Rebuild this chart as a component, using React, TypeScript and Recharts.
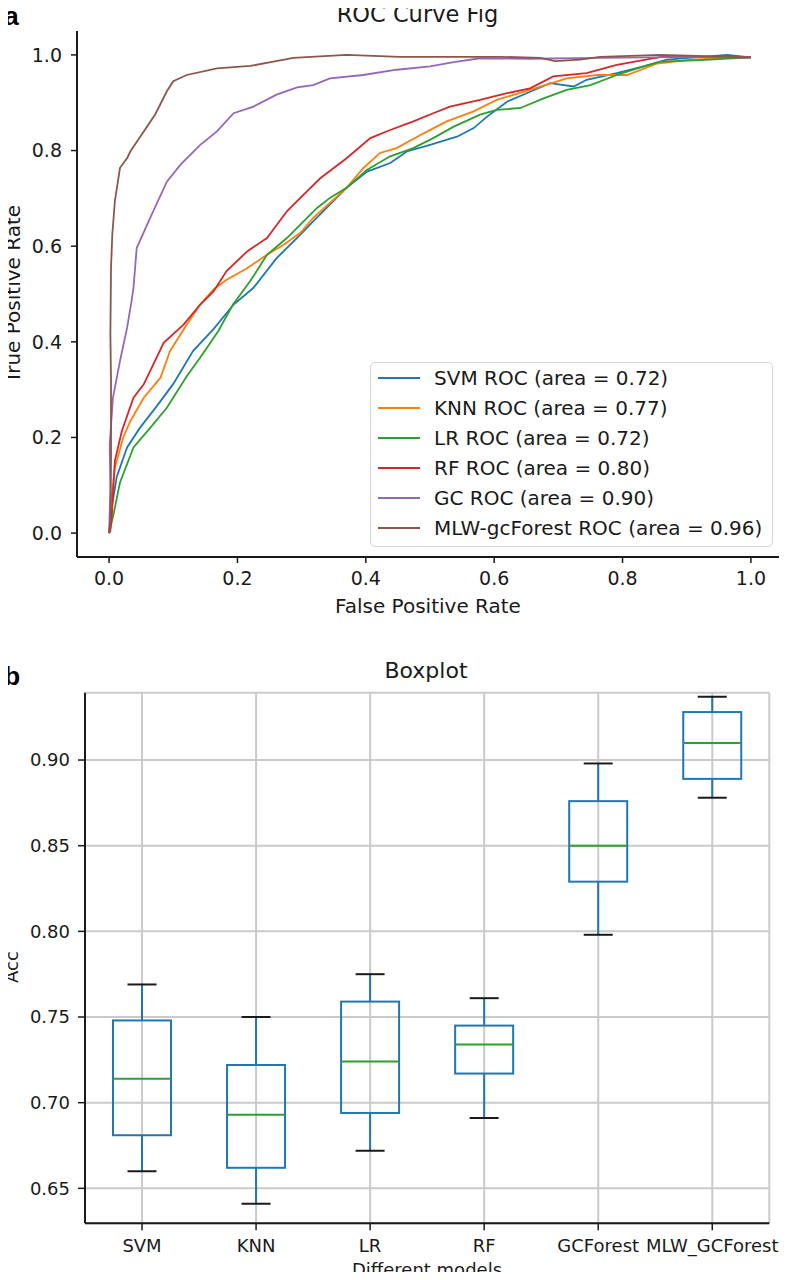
import {
  LineChart,
  Line,
  ComposedChart,
  Bar,
  XAxis,
  YAxis,
  CartesianGrid,
  Legend,
} from 'recharts'

const FONT = 'DejaVu Sans, sans-serif'
const BOLD_FONT = 'Liberation Sans, Arial, sans-serif'
const INK = '#1a1a1a'

// ---- panel a: ROC curves, [fpr, tpr] ----
const svmRoc: [number, number][] = [
  [0, 0], [0.004, 0.053], [0.012, 0.118], [0.028, 0.179], [0.048, 0.22], [0.074, 0.265],
  [0.1, 0.312], [0.131, 0.381], [0.163, 0.427], [0.194, 0.478], [0.225, 0.513], [0.261, 0.575],
  [0.298, 0.624], [0.318, 0.652], [0.344, 0.687], [0.37, 0.722], [0.402, 0.756], [0.438, 0.774],
  [0.464, 0.798], [0.5, 0.812], [0.542, 0.829], [0.568, 0.847], [0.589, 0.871], [0.62, 0.902],
  [0.656, 0.923], [0.687, 0.941], [0.724, 0.934], [0.744, 0.948], [0.791, 0.962], [0.833, 0.976],
  [0.869, 0.99], [0.963, 1.0], [1, 0.995],
]
const knnRoc: [number, number][] = [
  [0, 0], [0.004, 0.074], [0.009, 0.137], [0.022, 0.2], [0.033, 0.234], [0.054, 0.283],
  [0.08, 0.325], [0.095, 0.381], [0.121, 0.436], [0.142, 0.478], [0.163, 0.51], [0.183, 0.53],
  [0.215, 0.554], [0.246, 0.582], [0.272, 0.603], [0.298, 0.628], [0.318, 0.659], [0.37, 0.722],
  [0.396, 0.763], [0.422, 0.795], [0.448, 0.805], [0.49, 0.836], [0.526, 0.861], [0.568, 0.882],
  [0.604, 0.906], [0.656, 0.927], [0.713, 0.951], [0.76, 0.958], [0.807, 0.958], [0.854, 0.982],
  [0.9, 0.989], [0.947, 0.993], [1, 0.995],
]
const lrRoc: [number, number][] = [
  [0, 0], [0.007, 0.04], [0.017, 0.106], [0.038, 0.179], [0.064, 0.22], [0.09, 0.262],
  [0.121, 0.328], [0.142, 0.367], [0.17, 0.422], [0.193, 0.478], [0.22, 0.527], [0.246, 0.582],
  [0.277, 0.617], [0.298, 0.645], [0.324, 0.68], [0.344, 0.701], [0.37, 0.722], [0.402, 0.76],
  [0.438, 0.788], [0.474, 0.805], [0.505, 0.826], [0.537, 0.85], [0.578, 0.875], [0.604, 0.885],
  [0.641, 0.889], [0.677, 0.909], [0.713, 0.927], [0.75, 0.937], [0.791, 0.958], [0.833, 0.976],
  [0.859, 0.986], [0.921, 0.989], [1, 0.995],
]
const rfRoc: [number, number][] = [
  [0, 0], [0.002, 0.005], [0.004, 0.033], [0.009, 0.151], [0.02, 0.214], [0.038, 0.283],
  [0.054, 0.311], [0.085, 0.398], [0.116, 0.436], [0.142, 0.478], [0.163, 0.506], [0.183, 0.548],
  [0.215, 0.589], [0.246, 0.617], [0.277, 0.673], [0.298, 0.701], [0.329, 0.742], [0.37, 0.784],
  [0.407, 0.826], [0.438, 0.843], [0.474, 0.861], [0.505, 0.878], [0.531, 0.892], [0.578, 0.906],
  [0.62, 0.92], [0.656, 0.93], [0.692, 0.955], [0.744, 0.962], [0.791, 0.979], [0.869, 0.998],
  [0.921, 0.996], [1, 0.995],
]
const gcRoc: [number, number][] = [
  [0, 0], [0.002, 0.088], [0.001, 0.186], [0.006, 0.283], [0.017, 0.36], [0.028, 0.429],
  [0.035, 0.485], [0.038, 0.513], [0.043, 0.596], [0.064, 0.659], [0.09, 0.735], [0.111, 0.77],
  [0.142, 0.812], [0.168, 0.84], [0.194, 0.878], [0.225, 0.892], [0.261, 0.917], [0.293, 0.932],
  [0.318, 0.937], [0.344, 0.951], [0.396, 0.958], [0.448, 0.969], [0.5, 0.976], [0.537, 0.985],
  [0.578, 0.993], [0.656, 0.992], [0.765, 0.994], [0.921, 0.996], [1, 0.995],
]
const mlwRoc: [number, number][] = [
  [0, 0], [0.002, 0.026], [0.003, 0.151], [0.003, 0.318], [0.002, 0.416], [0.003, 0.555],
  [0.005, 0.624], [0.009, 0.694], [0.017, 0.764], [0.028, 0.784], [0.033, 0.798], [0.054, 0.84],
  [0.072, 0.876], [0.09, 0.924], [0.1, 0.945], [0.121, 0.958], [0.168, 0.972], [0.22, 0.977],
  [0.256, 0.986], [0.287, 0.994], [0.37, 1.0], [0.453, 0.996], [0.531, 0.996], [0.609, 0.996],
  [0.672, 0.994], [0.695, 0.987], [0.734, 0.99], [0.765, 0.996], [0.859, 1.0], [1, 0.995],
]

const rocNames = [
  'SVM ROC (area = 0.72)',
  'KNN ROC (area = 0.77)',
  'LR ROC (area = 0.72)',
  'RF ROC (area = 0.80)',
  'GC ROC (area = 0.90)',
  'MLW-gcForest ROC (area = 0.96)',
]
const rocColors = ['#1f77b4', '#ff7f0e', '#2ca02c', '#d62728', '#9467bd', '#8c564b']
const rocPoints = [svmRoc, knnRoc, lrRoc, rfRoc, gcRoc, mlwRoc]
const rocTicks = [0, 0.2, 0.4, 0.6, 0.8, 1.0]

// ---- panel b: accuracy boxplot ----
const models = ['SVM', 'KNN', 'LR', 'RF', 'GCForest', 'MLW_GCForest']
const whiskerLow = [0.66, 0.641, 0.672, 0.691, 0.798, 0.878]
const q1 = [0.681, 0.662, 0.694, 0.717, 0.829, 0.889]
const median = [0.714, 0.693, 0.724, 0.734, 0.85, 0.91]
const q3 = [0.748, 0.722, 0.759, 0.745, 0.876, 0.928]
const whiskerHigh = [0.769, 0.75, 0.775, 0.761, 0.898, 0.937]
const accTicks = [0.65, 0.7, 0.75, 0.8, 0.85, 0.9]

const series = rocNames.map((name, i) => ({
  name,
  color: rocColors[i],
  data: rocPoints[i].map(([fpr, tpr]) => ({ fpr, tpr })),
}))

const boxRows = models.map((name, i) => ({
  name,
  lo: whiskerLow[i],
  q1: q1[i],
  med: median[i],
  q3: q3[i],
  hi: whiskerHigh[i],
}))

const tickStyle = (size: number) => ({ fontFamily: FONT, fontSize: size, fill: INK })
const spine = { stroke: INK, strokeWidth: 2 }

function RocLegend() {
  return (
    <div
      style={{
        boxSizing: 'border-box',
        width: 403,
        height: 185,
        border: '1.5px solid #d6d6d6',
        borderRadius: 5,
        background: 'rgba(255,255,255,0.85)',
        fontFamily: FONT,
        fontSize: 20,
        color: INK,
      }}
    >
      {series.map((s) => (
        <div key={s.name} style={{ display: 'flex', alignItems: 'center', height: 30 }}>
          <span
            style={{
              display: 'inline-block',
              marginLeft: 7,
              width: 42,
              height: 0,
              borderTop: `2px solid ${s.color}`,
            }}
          />
          <span style={{ marginLeft: 14, whiteSpace: 'nowrap', lineHeight: '30px' }}>{s.name}</span>
        </div>
      ))}
    </div>
  )
}

// eslint-disable-next-line @typescript-eslint/no-explicit-any
function BoxShape(props: any) {
  const { x, y, width, height, payload } = props
  if (!payload) return null
  const span = payload.hi - payload.lo
  const py = (v: number) => y + ((payload.hi - v) / span) * height
  const cx = x + width / 2
  const cap = width / 4
  const blue = '#1f77b4'
  return (
    <g>
      <line x1={cx} x2={cx} y1={py(payload.hi)} y2={py(payload.q3)} stroke={blue} strokeWidth={2} />
      <line x1={cx} x2={cx} y1={py(payload.q1)} y2={py(payload.lo)} stroke={blue} strokeWidth={2} />
      <line x1={cx - cap} x2={cx + cap} y1={py(payload.hi)} y2={py(payload.hi)} stroke={INK} strokeWidth={2} />
      <line x1={cx - cap} x2={cx + cap} y1={py(payload.lo)} y2={py(payload.lo)} stroke={INK} strokeWidth={2} />
      <rect
        x={x}
        y={py(payload.q3)}
        width={width}
        height={py(payload.q1) - py(payload.q3)}
        fill="none"
        stroke={blue}
        strokeWidth={2}
      />
      <line x1={x} x2={x + width} y1={py(payload.med)} y2={py(payload.med)} stroke="#2ca02c" strokeWidth={2} />
    </g>
  )
}

export default function App() {
  return (
    <div style={{ position: 'relative', width: 787, height: 1280, margin: -8, background: '#fff' }}>
      <div style={{ position: 'absolute', left: 0, top: 0 }}>
        <LineChart width={787} height={630} margin={{ top: 31, right: 4, bottom: 23, left: 0 }}>
          <XAxis
            type="number"
            dataKey="fpr"
            domain={[-0.05, 1.05]}
            ticks={rocTicks}
            tickFormatter={(v) => Number(v).toFixed(1)}
            allowDataOverflow
            height={50}
            tick={tickStyle(19)}
            tickSize={6}
            tickMargin={9}
            tickLine={{ stroke: INK, strokeWidth: 1.5 }}
            axisLine={spine}
          />
          <YAxis
            type="number"
            domain={[-0.05, 1.05]}
            ticks={rocTicks}
            tickFormatter={(v) => Number(v).toFixed(1)}
            allowDataOverflow
            width={77}
            tick={tickStyle(19)}
            tickSize={6}
            tickMargin={9}
            tickLine={{ stroke: INK, strokeWidth: 1.5 }}
            axisLine={spine}
          />
          <XAxis
            xAxisId="top"
            orientation="top"
            type="number"
            dataKey="fpr"
            domain={[-0.05, 1.05]}
            allowDataOverflow
            height={0}
            tick={false}
            tickLine={false}
            axisLine={spine}
          />
          <YAxis
            yAxisId="right"
            orientation="right"
            type="number"
            domain={[-0.05, 1.05]}
            allowDataOverflow
            width={0}
            tick={false}
            tickLine={false}
            axisLine={spine}
          />
          {series.map((s) => (
            <Line
              key={s.name}
              name={s.name}
              data={s.data}
              dataKey="tpr"
              type="linear"
              stroke={s.color}
              strokeWidth={1.8}
              dot={false}
              activeDot={false}
              isAnimationActive={false}
            />
          ))}
          <Legend
            layout="horizontal"
            verticalAlign="middle"
            align="center"
            wrapperStyle={{ left: 370, top: 362, width: 403, height: 185 }}
            content={() => <RocLegend />}
          />
        </LineChart>
      </div>

      <div style={{ position: 'absolute', left: 0, top: 640 }}>
        <ComposedChart
          width={787}
          height={640}
          data={boxRows}
          margin={{ top: 52.7, right: 17.7, bottom: 26.7, left: 0 }}
        >
          <CartesianGrid stroke="#cacaca" strokeWidth={2} />
          <XAxis
            dataKey="name"
            interval={0}
            height={30}
            tick={tickStyle(18)}
            tickSize={7}
            tickMargin={9}
            tickLine={{ stroke: INK, strokeWidth: 1.5 }}
            axisLine={spine}
          />
          <YAxis
            type="number"
            domain={[0.6296, 0.9393]}
            ticks={accTicks}
            tickFormatter={(v) => Number(v).toFixed(2)}
            allowDataOverflow
            width={85}
            tick={tickStyle(18)}
            tickSize={7}
            tickMargin={8}
            tickLine={{ stroke: INK, strokeWidth: 1.5 }}
            axisLine={spine}
          />
          <XAxis
            xAxisId="top"
            orientation="top"
            dataKey="name"
            height={0}
            tick={false}
            tickLine={false}
            axisLine={spine}
          />
          <YAxis
            yAxisId="right"
            orientation="right"
            type="number"
            domain={[0.6296, 0.9393]}
            allowDataOverflow
            width={0}
            tick={false}
            tickLine={false}
            axisLine={spine}
          />
          <Bar
            dataKey={(d: { lo: number; hi: number }) => [d.lo, d.hi]}
            barSize={58}
            shape={BoxShape}
            isAnimationActive={false}
          />
        </ComposedChart>
      </div>

      <svg
        width={787}
        height={1280}
        style={{ position: 'absolute', left: 0, top: 0, pointerEvents: 'none' }}
      >
        <text x={4} y={24.5} fontFamily={BOLD_FONT} fontWeight="bold" fontSize={26.5} fill="#000">
          a
        </text>
        <text x={4} y={685} fontFamily={BOLD_FONT} fontWeight="bold" fontSize={26.5} fill="#000">
          b
        </text>
        <text x={417.5} y={21.5} textAnchor="middle" fontFamily={FONT} fontSize={22.5} fill={INK}>
          ROC Curve Fig
        </text>
        <text x={428} y={613} textAnchor="middle" fontFamily={FONT} fontSize={20} fill={INK}>
          False Positive Rate
        </text>
        <text
          transform="translate(19.5, 294) rotate(-90)"
          textAnchor="middle"
          fontFamily={FONT}
          fontSize={20}
          fill={INK}
        >
          True Positive Rate
        </text>
        <text x={426} y={678} textAnchor="middle" fontFamily={FONT} fontSize={22} fill={INK}>
          Boxplot
        </text>
        <text x={427} y={1275.5} textAnchor="middle" fontFamily={FONT} fontSize={18} fill={INK}>
          Different models
        </text>
        <text
          transform="translate(17.5, 967) rotate(-90)"
          textAnchor="middle"
          fontFamily={FONT}
          fontSize={18}
          fill={INK}
        >
          Acc
        </text>
      </svg>
    </div>
  )
}
